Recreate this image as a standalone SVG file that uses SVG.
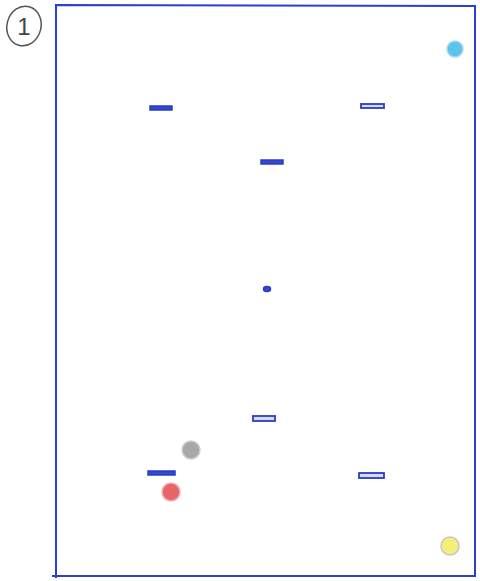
<svg xmlns="http://www.w3.org/2000/svg" width="480" height="581" viewBox="0 0 480 581">
<style>
.frame{fill:none;stroke:#2b3fd0;stroke-width:2}
.dash{fill:#d8dcff;stroke:#2a3cc8;stroke-width:1.8}
.solid{fill:#3347cf;stroke:#2a3cc8;stroke-width:1.5}
.dot{stroke-width:1.5}
</style>
<rect x="0" y="0" width="480" height="581" fill="#ffffff"/>
<g id="label">
<ellipse cx="24" cy="26" rx="17" ry="20" fill="none" stroke="#555" stroke-width="1.5" transform="rotate(15 24 26)"/>
<text x="24" y="35" font-family="Liberation Sans, sans-serif" font-size="24" fill="#444" text-anchor="middle">1</text>
</g>
<g id="frame">
<path class="frame" d="M56,578 L56,5 L475,6 L475,577 M52,576 L475,576"/>
</g>
<g id="dots">
<circle cx="455" cy="49" r="8" fill="#5cc3ea" stroke="#a9d9ee" class="dot"/>
<circle cx="191" cy="450" r="9" fill="#a8a8a8" stroke="#cfcfcf" class="dot"/>
<circle cx="171" cy="492" r="9" fill="#e8666a" stroke="#f2b0b0" class="dot"/>
<circle cx="450" cy="546" r="9" fill="#f3ef7a" stroke="#c8c8c0" class="dot"/>
</g>
<g id="marks">
<rect class="solid" x="150" y="106" width="22" height="4"/>
<rect class="dash" x="361" y="104" width="23" height="4"/>
<rect class="solid" x="261" y="160" width="22" height="4"/>
<ellipse class="solid" cx="267" cy="289" rx="3.5" ry="2.5"/>
<rect class="dash" x="253" y="416" width="22" height="5"/>
<rect class="solid" x="148" y="471" width="27" height="4"/>
<rect class="dash" x="359" y="473" width="25" height="5"/>
</g>
</svg>
